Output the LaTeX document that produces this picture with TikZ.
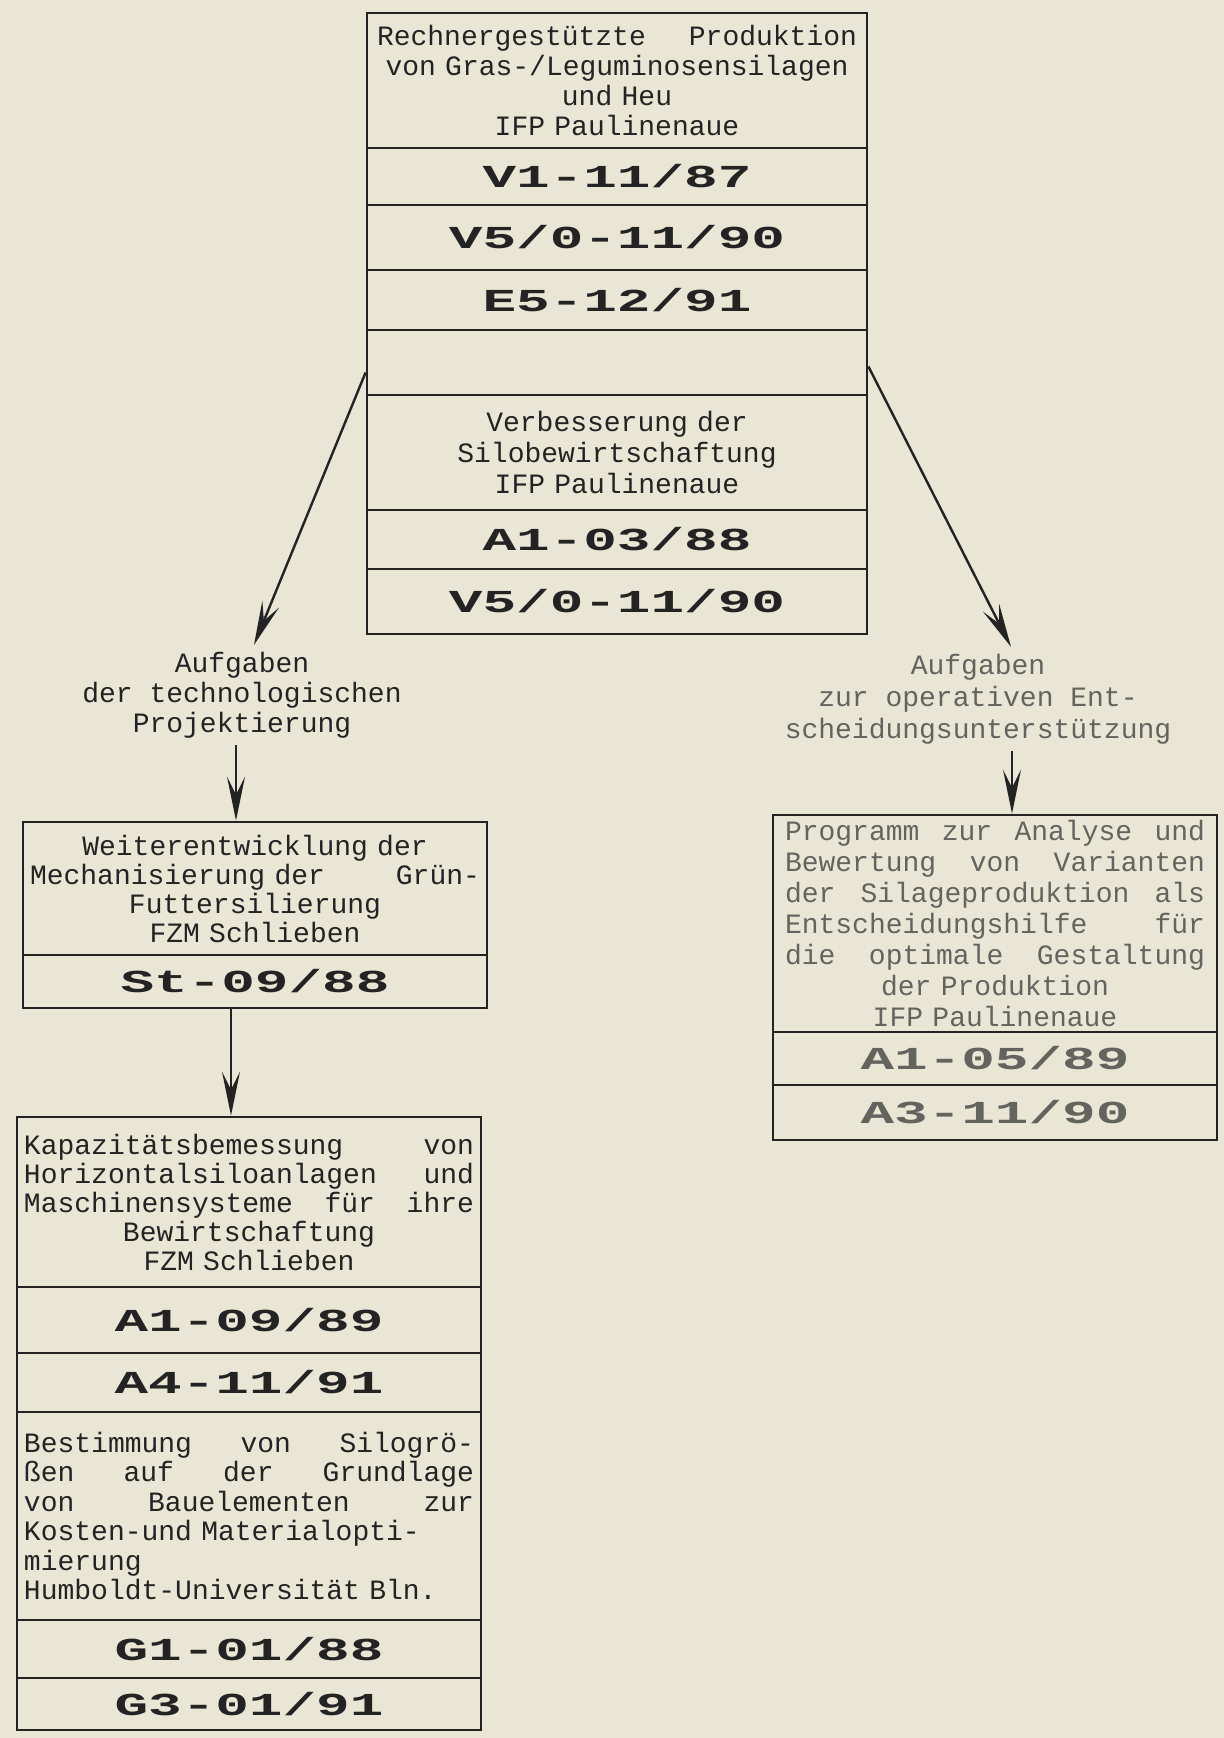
\documentclass[tikz,border=0pt]{standalone}
\usepackage{fontspec}
\setmonofont{Liberation Mono}
\newfontfamily\codefont[FakeStretch=1.75]{Liberation Mono}
\usetikzlibrary{arrows.meta}
\definecolor{paper}{RGB}{233,230,213}
\definecolor{ink}{RGB}{35,35,35}
\definecolor{faded}{RGB}{100,100,95}

\begin{document}
\begin{tikzpicture}[x=0.5pt,y=-0.5pt,
  txt/.style={font=\ttfamily\fontsize{14}{14.5}\selectfont, text=ink},
  cell/.style={draw=ink, line width=1.4pt, inner ysep=0pt, txt, align=center},
  code/.style={cell, font=\codefont\bfseries\fontsize{16}{16}\selectfont},
  topcol/.style={text width=240pt, inner xsep=5pt},
  leftcol/.style={text width=225pt, inner xsep=3.5pt},
  rightcol/.style={text width=210pt, inner xsep=6pt},
  arr/.style={draw=ink, line width=1.2pt, -{Stealth[length=22pt,width=9pt,inset=9pt]}}]
  \useasboundingbox (0,0) rectangle (1224,1738);
  \fill[paper] (0,0) rectangle (1224,1738);

  % top box
  \node[cell, topcol, minimum height=67.5pt, font=\ttfamily\fontsize{14}{15}\selectfont] (head) at (617,80.5)
    {Rechnergestützte\hfill Produktion\\von Gras-/Leguminosensilagen\\und Heu\\IFP Paulinenaue};
  \node[code, topcol, minimum height=28.5pt] (v1) at (617,176.5) {V1-11/87};
  \node[code, topcol, minimum height=32.5pt] (v5a) at (617,237.5) {V5/0-11/90};
  \node[code, topcol, minimum height=30pt] (e5) at (617,300) {E5-12/91};
  \node[cell, topcol, minimum height=32.5pt] (gap) at (617,362.5) {};
  \node[cell, topcol, minimum height=57.5pt, font=\ttfamily\fontsize{14}{15.5}\selectfont] (silo) at (617,452.5)
    {Verbesserung der\\Silobewirtschaftung\\IFP Paulinenaue};
  \node[code, topcol, minimum height=29.5pt] (a1) at (617,539.5) {A1-03/88};
  \node[code, topcol, minimum height=32.5pt] (v5b) at (617,601.5) {V5/0-11/90};

  % labels
  \node[txt, align=center, font=\ttfamily\fontsize{14}{15}\selectfont] (lblL) at (242,695)
    {Aufgaben\\der technologischen\\Projektierung};
  \node[txt, align=center, text=faded, font=\ttfamily\fontsize{14}{16}\selectfont] (lblR) at (978,699)
    {Aufgaben\\zur operativen Ent-\\scheidungsunterstützung};

  % left column
  \node[cell, leftcol, minimum height=66.5pt] (weiter) at (255,888.5)
    {Weiterentwicklung der\\Mechanisierung der\hfill Grün-\\Futtersilierung\\FZM Schlieben};
  \node[code, leftcol, minimum height=26.5pt] (st) at (255,981.5) {St-09/88};

  \node[cell, leftcol, minimum height=85pt] (kapa) at (249,1202)
    {Kapazitätsbemessung\hfill von\\Horizontalsiloanlagen\hfill und\\Maschinensysteme\hfill für\hfill ihre\\Bewirtschaftung\\FZM Schlieben};
  \node[code, leftcol, minimum height=33pt] (a1b) at (249,1320) {A1-09/89};
  \node[code, leftcol, minimum height=29.5pt] (a4) at (249,1382.5) {A4-11/91};
  \node[cell, leftcol, align=left, minimum height=104pt, font=\ttfamily\fontsize{14}{14.7}\selectfont] (best) at (249,1516)
    {Bestimmung\hfill von\hfill Silogrö-\\ßen\hfill auf\hfill der\hfill Grundlage\\von\hfill Bauelementen\hfill zur\\Kosten-und Materialopti-\\mierung\\Humboldt-Universität Bln.};
  \node[code, leftcol, minimum height=29pt] (g1) at (249,1649) {G1-01/88};
  \node[code, leftcol, minimum height=26pt] (g3) at (249,1704) {G3-01/91};

  % right column
  \node[cell, rightcol, text=faded, minimum height=108.5pt, font=\ttfamily\fontsize{14}{15.5}\selectfont] (prog) at (995,923.5)
    {Programm\hfill zur\hfill Analyse\hfill und\\Bewertung\hfill von\hfill Varianten\\der\hfill Silageproduktion\hfill als\\Entscheidungshilfe\hfill für\\die\hfill optimale\hfill Gestaltung\\der Produktion\\IFP Paulinenaue};
  \node[code, rightcol, text=faded, minimum height=26.5pt] (a1c) at (995,1058.5) {A1-05/89};
  \node[code, rightcol, text=faded, minimum height=27.5pt] (a3) at (995,1112.5) {A3-11/90};

  \draw[arr] ([yshift=-5pt]gap.west) -- ([xshift=6pt]lblL.north);
  \draw[arr] ([yshift=-2pt]gap.east) -- ([xshift=16.5pt]lblR.north);
  \draw[arr] ([xshift=-3pt]lblL.south) -- ([xshift=-3pt]lblL.south |- weiter.north);
  \draw[arr] ([xshift=-12pt]st.south) -- ([xshift=-12pt]st.south |- kapa.north);
  \draw[arr] ([xshift=17pt]lblR.south) -- ([xshift=17pt]lblR.south |- prog.north);
\end{tikzpicture}
\end{document}
